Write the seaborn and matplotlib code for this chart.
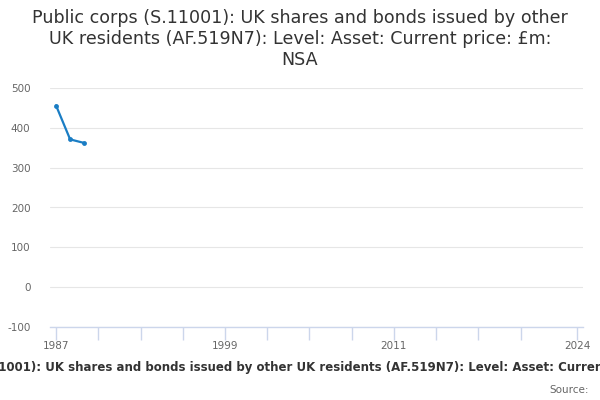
import matplotlib
matplotlib.use("Agg")
import matplotlib.pyplot as plt
import pandas as pd
import seaborn as sns

TITLE = ("Public corps (S.11001): UK shares and bonds issued by other UK residents "
         "(AF.519N7): Level: Asset: Current price: £m: NSA")

years = [1987, 1988, 1989]
values = [456, 371, 362]
y_ticks = [-100, 0, 100, 200, 300, 400, 500]
x_labels = [1987, 1999, 2011, 2024]
x_minor = [1987, 1990, 1993, 1996, 1999, 2002, 2005, 2008, 2011, 2014, 2017, 2020, 2024]

df = pd.DataFrame({"year": years, "value": values})

sns.set_theme(style="white")
plt.rcParams["font.family"] = ["DejaVu Sans"]

fig = plt.figure(figsize=(6, 4), dpi=100)
ax = fig.add_axes([50 / 600, 73 / 400, 533 / 600, 239 / 400])

sns.lineplot(data=df, x="year", y="value", ax=ax, color="#1a7dc4",
             linewidth=1.6, marker="o", markersize=3.5, markeredgewidth=0)

ax.set_xlim(1986.57, 2024.43)
ax.set_ylim(-100, 500)
ax.set_yticks(y_ticks)
ax.set_yticklabels([str(v) for v in y_ticks], fontsize=7.5, color="#666666")
ax.yaxis.grid(True, color="#e6e6e6", linewidth=0.8)
ax.tick_params(axis="y", length=0, pad=14)

ax.set_xticks(x_minor, minor=True)
ax.set_xticks(x_labels)
ax.set_xticklabels([str(v) for v in x_labels], fontsize=7.5, color="#666666")
ax.tick_params(axis="x", which="both", length=9, color="#ccd6eb", width=1,
               direction="out", pad=1, bottom=True)

for side in ["top", "right", "left"]:
    ax.spines[side].set_visible(False)
ax.spines["bottom"].set_color("#ccd6eb")
ax.spines["bottom"].set_linewidth(1)
ax.set_xlabel("")
ax.set_ylabel("")

fig.text(0.5, 0.977, "Public corps (S.11001): UK shares and bonds issued by other\n"
         "UK residents (AF.519N7): Level: Asset: Current price: £m:\nNSA",
         ha="center", va="top", fontsize=12.6, color="#333333", linespacing=1.21)
fig.text(0.5, 0.08, TITLE, ha="center", va="center", fontsize=8.45,
         fontweight="bold", color="#333333")
fig.text(0.982, 0.025, "Source:", ha="right", va="center", fontsize=7.5,
         color="#666666")

fig.savefig("out.png", dpi=100)
